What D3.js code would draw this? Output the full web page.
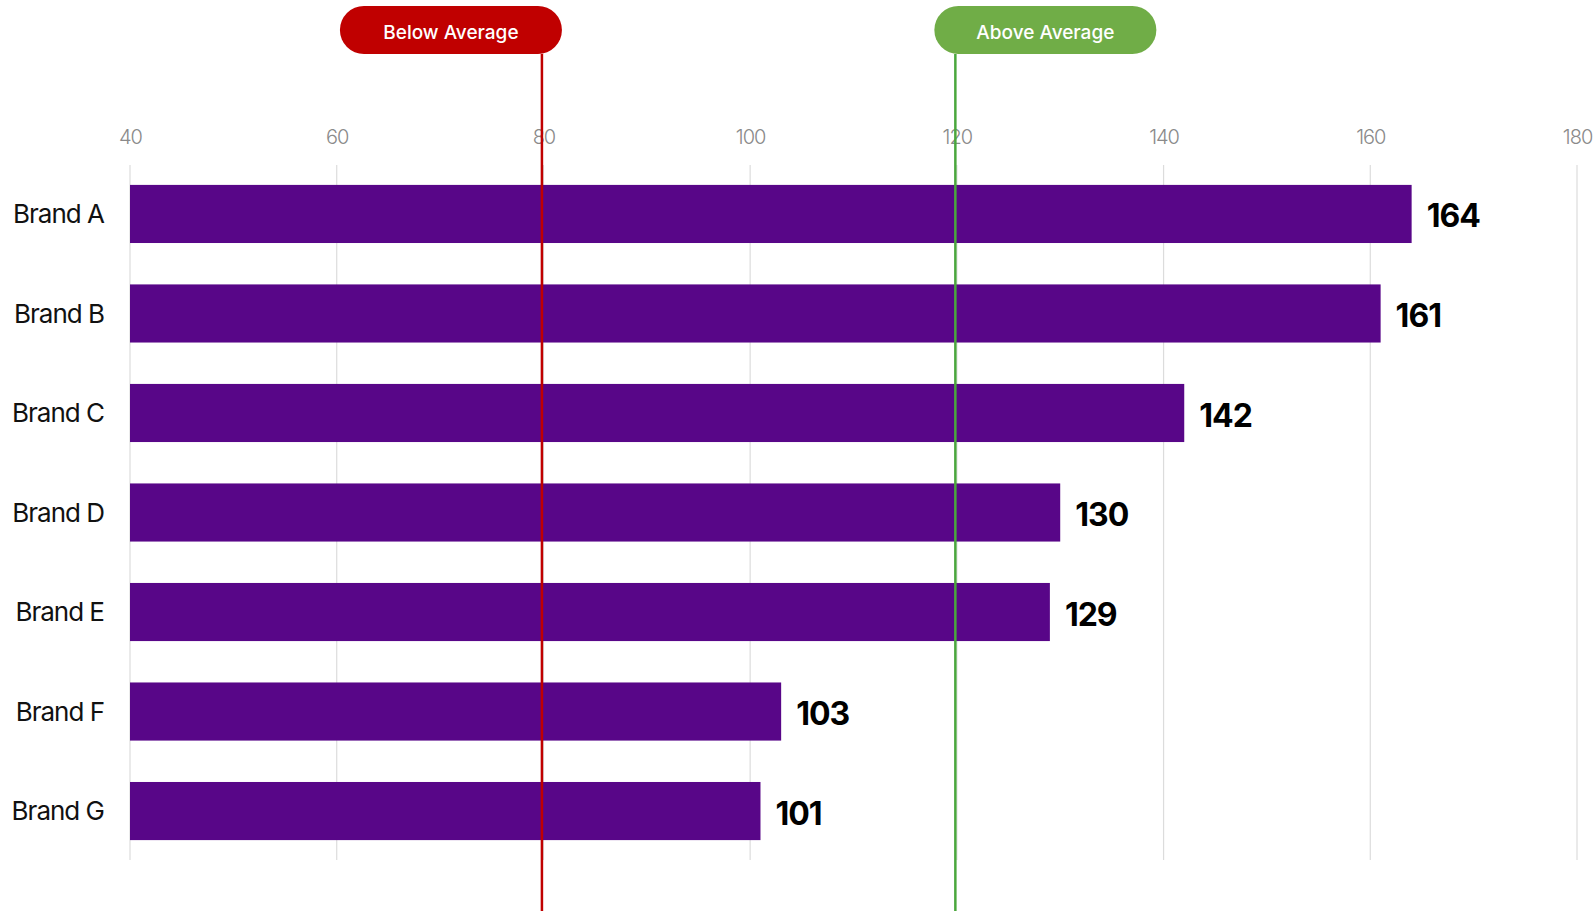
<!DOCTYPE html>
<html>
<head>
<meta charset="utf-8">
<script src="https://cdn.jsdelivr.net/npm/d3@7"></script>
<style>
  html, body { margin: 0; padding: 0; background: #ffffff; }
  svg { display: block; font-family: Inter, "Noto Sans", sans-serif; }
</style>
</head>
<body>
<svg id="chart" width="1596" height="911"></svg>
<script>
// Brand index scores
const brands = ["Brand A", "Brand B", "Brand C", "Brand D", "Brand E", "Brand F", "Brand G"];
const scores = [164, 161, 142, 130, 129, 103, 101];

// Axis ticks
const tickValues = [40, 60, 80, 100, 120, 140, 160, 180];

// Benchmark markers
const markerLabels = ["Below Average", "Above Average"];
const markerValues = [80, 120];
const markerColors = ["#c00000", "#70ad47"];
const markerLineColors = ["#c00000", "#4aa73d"];

const svg = d3.select("#chart");

const x = d3.scaleLinear().domain([40, 180]).range([130, 1577]);
const y = d3.scaleBand().domain(brands).range([165, 860]).paddingInner(0.416).paddingOuter(0.2);

// Vertical gridlines
svg.append("g")
  .selectAll("line")
  .data(tickValues)
  .join("line")
  .attr("x1", d => x(d)).attr("x2", d => x(d))
  .attr("y1", 165).attr("y2", 860)
  .attr("stroke", "#dcdcdc")
  .attr("stroke-width", 1.2);

// Tick labels along the top
const axis = d3.axisTop(x).tickValues(tickValues).tickSize(0).tickPadding(0);
const axisG = svg.append("g").attr("transform", "translate(0,144)").call(axis);
axisG.select(".domain").remove();
axisG.selectAll("text")
  .attr("fill", "#8a8a8a")
  .attr("font-family", "Inter, sans-serif")
  .attr("font-size", 20)
  .attr("font-weight", 300)
  .attr("letter-spacing", -1)
  .attr("dy", 0);

// Bars
const rows = brands.map((b, i) => ({ brand: b, value: scores[i] }));
svg.append("g")
  .selectAll("rect")
  .data(rows)
  .join("rect")
  .attr("x", x(40))
  .attr("y", d => y(d.brand))
  .attr("width", d => x(d.value) - x(40))
  .attr("height", y.bandwidth())
  .attr("fill", "#580688");

// Category labels
svg.append("g")
  .selectAll("text")
  .data(rows)
  .join("text")
  .attr("x", 104)
  .attr("y", d => y(d.brand) + y.bandwidth() / 2)
  .attr("dy", "0.36em")
  .attr("text-anchor", "end")
  .attr("fill", "#111")
  .attr("font-size", 26)
  .attr("font-weight", 400)
  .attr("letter-spacing", -1)
  .text(d => d.brand);

// Value labels
svg.append("g")
  .selectAll("text")
  .data(rows)
  .join("text")
  .attr("x", d => x(d.value) + 15)
  .attr("y", d => y(d.brand) + y.bandwidth() / 2 + 2)
  .attr("dy", "0.36em")
  .attr("fill", "#000")
  .attr("font-size", 32)
  .attr("font-weight", 700)
  .attr("letter-spacing", -1)
  .text(d => d.value);

// Benchmark lines with pill labels
const markers = markerLabels.map((l, i) => ({ label: l, value: markerValues[i], fill: markerColors[i], line: markerLineColors[i], side: i === 0 ? -1 : 1 }));
const pillW = 222, pillH = 48, pillTop = 6;
const pillX = d => d.side < 0 ? x(d.value) - 1.5 + 20 - pillW : x(d.value) - 1.5 - 21;
const mg = svg.append("g").selectAll("g").data(markers).join("g");
mg.append("line")
  .attr("x1", d => x(d.value) - 1.5).attr("x2", d => x(d.value) - 1.5)
  .attr("y1", pillTop + pillH).attr("y2", 911)
  .attr("stroke", d => d.line)
  .attr("stroke-width", 2.5);
mg.append("rect")
  .attr("x", pillX)
  .attr("y", pillTop)
  .attr("width", pillW)
  .attr("height", pillH)
  .attr("rx", pillH / 2)
  .attr("fill", d => d.fill);
mg.append("text")
  .attr("x", d => pillX(d) + pillW / 2)
  .attr("y", pillTop + pillH / 2 + 2)
  .attr("dy", "0.36em")
  .attr("text-anchor", "middle")
  .attr("fill", "#ffffff")
  .attr("font-size", 19)
  .attr("font-weight", 500)
  .text(d => d.label);
</script>
</body>
</html>
